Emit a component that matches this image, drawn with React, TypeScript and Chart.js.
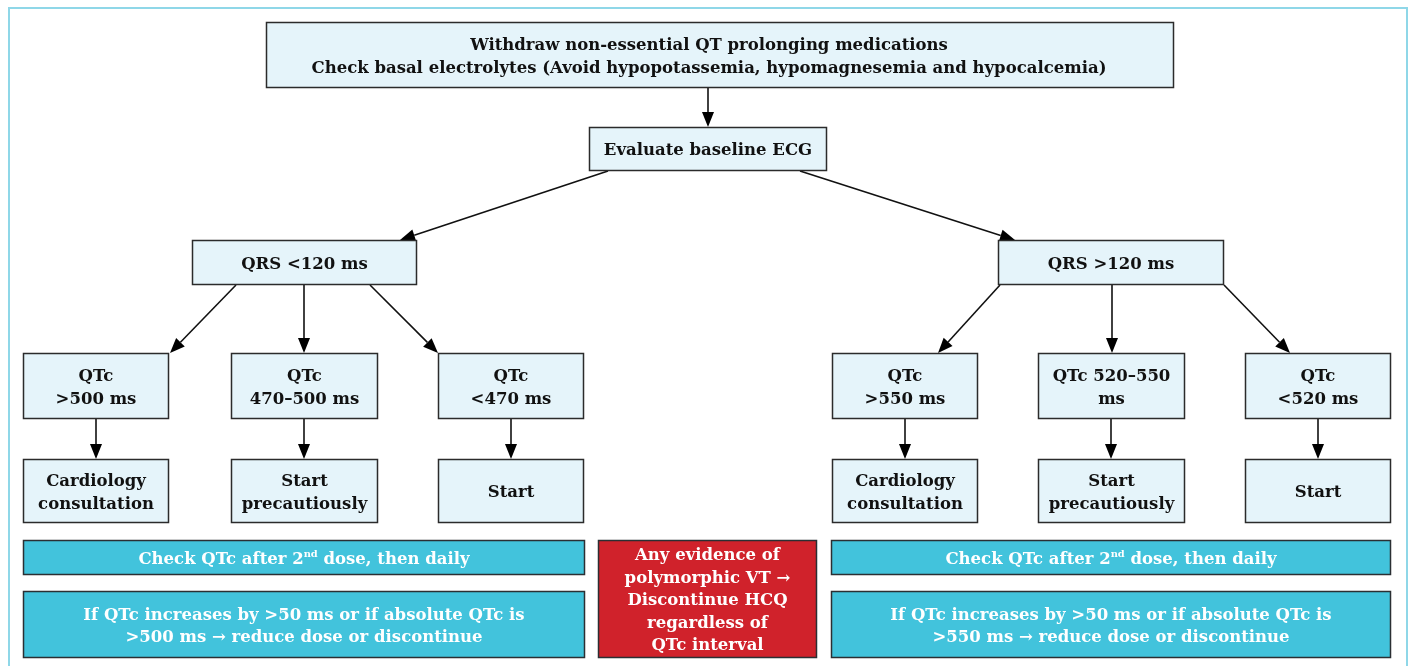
import React, { useEffect, useRef } from "react";
import { Chart, registerables } from "chart.js";

Chart.register(...registerables);

// ---- Flowchart content (text) ----
const nodeLabels: string[][] = [
  ["Withdraw non-essential QT prolonging medications", "Check basal electrolytes (Avoid hypopotassemia, hypomagnesemia and hypocalcemia)"],
  ["Evaluate baseline ECG"],
  ["QRS <120 ms"],
  ["QRS >120 ms"],
  ["QTc", ">500 ms"],
  ["QTc", "470–500 ms"],
  ["QTc", "<470 ms"],
  ["QTc", ">550 ms"],
  ["QTc 520–550", "ms"],
  ["QTc", "<520 ms"],
  ["Cardiology", "consultation"],
  ["Start", "precautiously"],
  ["Start"],
  ["Cardiology", "consultation"],
  ["Start", "precautiously"],
  ["Start"],
  ["Check QTc after 2^{nd} dose, then daily"],
  ["Check QTc after 2^{nd} dose, then daily"],
  ["If QTc increases by >50 ms or if absolute QTc is", ">500 ms → reduce dose or discontinue"],
  ["If QTc increases by >50 ms or if absolute QTc is", ">550 ms → reduce dose or discontinue"],
  ["Any evidence of", "polymorphic VT →", "Discontinue HCQ", "regardless of", "QTc interval"],
];

// node kind: 0 = light box, 1 = cyan bar, 2 = red alert
const nodeKinds: number[] = [0, 0, 0, 0, 0, 0, 0, 0, 0, 0, 0, 0, 0, 0, 0, 0, 1, 1, 1, 1, 2];

// ---- Layout (data units of the x/y scales) ----
const nodeBoxes: number[][] = [
  [266, 22, 1174, 88],
  [589, 127, 827, 171],
  [192, 240, 417, 285],
  [998, 240, 1224, 285],
  [23, 353, 169, 419],
  [231, 353, 378, 419],
  [438, 353, 584, 419],
  [832, 353, 978, 419],
  [1038, 353, 1185, 419],
  [1245, 353, 1391, 419],
  [23, 459, 169, 523],
  [231, 459, 378, 523],
  [438, 459, 584, 523],
  [832, 459, 978, 523],
  [1038, 459, 1185, 523],
  [1245, 459, 1391, 523],
  [23, 540, 585, 575],
  [831, 540, 1391, 575],
  [23, 591, 585, 658],
  [831, 591, 1391, 658],
  [598, 540, 817, 658],
];

// optional text centre (x) overrides per node index
const textCenterX: Record<number, number> = { 0: 709 };

// arrows: [fromX, fromY, toX, toY]
const edges: number[][] = [
  [708, 88, 708, 127],
  [608, 171, 400, 240],
  [800, 171, 1015, 240],
  [236, 285, 170, 353],
  [304, 285, 304, 353],
  [370, 285, 438, 353],
  [1000, 285, 938, 353],
  [1112, 285, 1112, 353],
  [1224, 285, 1290, 353],
  [96, 419, 96, 459],
  [304, 419, 304, 459],
  [511, 419, 511, 459],
  [905, 419, 905, 459],
  [1111, 419, 1111, 459],
  [1318, 419, 1318, 459],
];

const frameBox: number[] = [9, 8, 1407, 720];

const FONT_FAMILY = '"DejaVu Serif", "Liberation Serif", serif';
const FONT_SIZE = 16.5;
const LINE_H = 22.5;

function drawRichLine(ctx: CanvasRenderingContext2D, text: string, cx: number, cy: number) {
  const runs: { t: string; sup: boolean }[] = [];
  const re = /\^\{([^}]*)\}/g;
  let last = 0;
  let m: RegExpExecArray | null;
  while ((m = re.exec(text))) {
    if (m.index > last) runs.push({ t: text.slice(last, m.index), sup: false });
    runs.push({ t: m[1], sup: true });
    last = m.index + m[0].length;
  }
  if (last < text.length) runs.push({ t: text.slice(last), sup: false });
  const normalFont = `bold ${FONT_SIZE}px ${FONT_FAMILY}`;
  const supFont = `bold ${FONT_SIZE * 0.6}px ${FONT_FAMILY}`;
  let total = 0;
  const widths = runs.map((r) => {
    ctx.font = r.sup ? supFont : normalFont;
    const w = ctx.measureText(r.t).width;
    total += w;
    return w;
  });
  let x = cx - total / 2;
  ctx.textAlign = "left";
  ctx.textBaseline = "middle";
  runs.forEach((r, i) => {
    ctx.font = r.sup ? supFont : normalFont;
    ctx.fillText(r.t, x, r.sup ? cy - FONT_SIZE * 0.3 : cy);
    x += widths[i];
  });
}

const flowPlugin = {
  id: "flowchart",
  afterDatasetsDraw(chart: any) {
    const ctx: CanvasRenderingContext2D = chart.ctx;
    const xs = chart.scales.x;
    const ys = chart.scales.y;
    const px = (v: number) => xs.getPixelForValue(v);
    const py = (v: number) => ys.getPixelForValue(v);
    ctx.save();

    // outer frame
    ctx.strokeStyle = "#8fd7e8";
    ctx.lineWidth = 2;
    ctx.strokeRect(px(frameBox[0]), py(frameBox[1]), px(frameBox[2]) - px(frameBox[0]), py(frameBox[3]) - py(frameBox[1]));

    // arrows
    edges.forEach(([x1, y1, x2, y2]) => {
      const ax = px(x1), ay = py(y1), bx = px(x2), by = py(y2);
      const ang = Math.atan2(by - ay, bx - ax);
      const headL = 15, headW = 6;
      const baseX = bx - headL * Math.cos(ang);
      const baseY = by - headL * Math.sin(ang);
      ctx.strokeStyle = "#111";
      ctx.lineWidth = 1.6;
      ctx.beginPath();
      ctx.moveTo(ax, ay);
      ctx.lineTo(baseX, baseY);
      ctx.stroke();
      ctx.fillStyle = "#000";
      ctx.beginPath();
      ctx.moveTo(bx, by);
      ctx.lineTo(baseX + headW * Math.sin(ang), baseY - headW * Math.cos(ang));
      ctx.lineTo(baseX - headW * Math.sin(ang), baseY + headW * Math.cos(ang));
      ctx.closePath();
      ctx.fill();
    });

    // boxes
    nodeBoxes.forEach((b, i) => {
      const x1 = px(b[0]), y1 = py(b[1]), x2 = px(b[2]), y2 = py(b[3]);
      const kind = nodeKinds[i];
      ctx.fillStyle = kind === 0 ? "#e5f4fa" : kind === 1 ? "#42c3dc" : "#d0222b";
      ctx.fillRect(x1, y1, x2 - x1, y2 - y1);
      ctx.strokeStyle = kind === 0 ? "#2b2b2b" : "#2b2f33";
      ctx.lineWidth = 1.5;
      ctx.strokeRect(x1 + 0.5, y1 + 0.5, x2 - x1 - 1, y2 - y1 - 1);
      const lines = nodeLabels[i];
      const cx = textCenterX[i] !== undefined ? px(textCenterX[i]) : (x1 + x2) / 2;
      const cy = (y1 + y2) / 2;
      ctx.fillStyle = kind === 0 ? "#111" : "#ffffff";
      const n = lines.length;
      lines.forEach((ln, k) => {
        drawRichLine(ctx, ln, cx, cy + (k - (n - 1) / 2) * LINE_H + 2);
      });
    });
    ctx.restore();
  },
};

export default function App() {
  const ref = useRef<HTMLCanvasElement | null>(null);
  useEffect(() => {
    if (!ref.current) return;
    const centers = nodeBoxes.map((b) => ({ x: (b[0] + b[2]) / 2, y: (b[1] + b[3]) / 2 }));
    const chart = new Chart(ref.current, {
      type: "scatter",
      data: {
        datasets: [
          {
            label: "nodes",
            data: centers,
            pointRadius: 0,
            pointHoverRadius: 0,
          },
        ],
      },
      options: {
        animation: false,
        responsive: false,
        maintainAspectRatio: false,
        layout: { padding: 0 },
        plugins: { legend: { display: false }, tooltip: { enabled: false } },
        events: [],
        scales: {
          x: { type: "linear", min: 0, max: 1410, display: false },
          y: { type: "linear", min: 0, max: 666, reverse: true, display: false },
        },
      },
      plugins: [flowPlugin],
    });
    return () => chart.destroy();
  }, []);
  return (
    <div style={{ position: "fixed", left: 0, top: 0, width: 1410, height: 666, background: "#fff" }}>
      <canvas ref={ref} width={1410} height={666} style={{ width: 1410, height: 666, display: "block" }} />
    </div>
  );
}
